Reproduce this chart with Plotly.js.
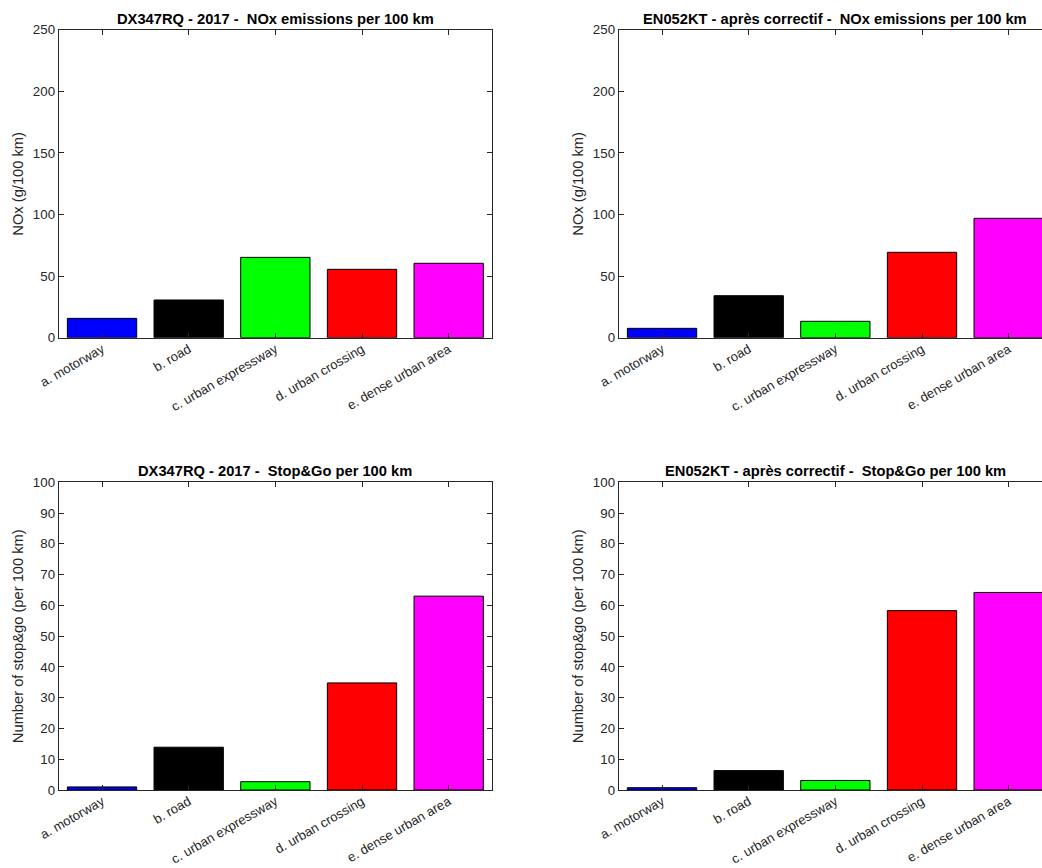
<!DOCTYPE html>
<html>
<head>
<meta charset="utf-8">
<script src="https://cdn.plot.ly/plotly-3.0.1.min.js"></script>
<style>html,body{margin:0;padding:0;background:#fff;overflow:hidden}</style>
</head>
<body>
<div id="chart" style="width:1042px;height:868px"></div>
<script>
var categories = ['a. motorway', 'b. road', 'c. urban expressway', 'd. urban crossing', 'e. dense urban area'];
var barColors = ['#0000FF', '#000000', '#00FF00', '#FF0000', '#FF00FF'];

var noxDX347RQ = [15.7, 30.6, 65.2, 55.5, 60.4];
var noxEN052KT = [7.6, 34.1, 13.3, 69.3, 96.9];
var stopGoDX347RQ = [1.0, 13.9, 2.7, 34.8, 63.0];
var stopGoEN052KT = [0.75, 6.3, 3.1, 58.3, 64.2];

var titles = [
  'DX347RQ - 2017 - \u00a0NOx emissions per 100 km',
  'EN052KT - après correctif - \u00a0NOx emissions per 100 km',
  'DX347RQ - 2017 - \u00a0Stop&amp;Go per 100 km',
  'EN052KT - après correctif - \u00a0Stop&amp;Go per 100 km'
];
var yTitleNox = 'NOx (g/100 km)';
var yTitleStop = 'Number of stop&amp;go (per 100 km)';

var W = 1042, H = 868;
var font = 'Liberation Sans, Arial, sans-serif';
var axisColor = '#262626';

function bar(y, xa, ya) {
  return {
    type: 'bar', x: categories, y: y, xaxis: xa, yaxis: ya,
    width: 0.8,
    marker: {color: barColors, line: {color: '#000000', width: 1}},
    hoverinfo: 'x+y', showlegend: false
  };
}

var data = [
  bar(noxDX347RQ, 'x', 'y'),
  bar(noxEN052KT, 'x2', 'y2'),
  bar(stopGoDX347RQ, 'x3', 'y3'),
  bar(stopGoEN052KT, 'x4', 'y4')
];

var leftX = [58.7, 492], rightX = [618.7, 1042];
var topY = [29.7, 337.7], botY = [482.3, 790];
function dx(p){ return [p[0]/W, p[1]/W]; }
function dy(p){ return [(H - p[1])/H, (H - p[0])/H]; }

function xaxis(domain, range, anchor) {
  return {
    domain: domain, anchor: anchor, range: range, type: 'category',
    showline: true, linecolor: axisColor, linewidth: 1, mirror: 'ticks',
    ticks: 'inside', ticklen: 5, tickcolor: axisColor, tickwidth: 1,
    tickangle: -30, ticklabelstandoff: -2, showgrid: false, zeroline: false,
    tickfont: {family: font, size: 13.1, color: axisColor}, fixedrange: true
  };
}
function yaxis(domain, range, dtick, anchor, mirror) {
  return {
    domain: domain, anchor: anchor, range: range, dtick: dtick, tick0: 0,
    showline: true, linecolor: axisColor, linewidth: 1, mirror: mirror,
    ticks: 'inside', ticklen: 5, tickcolor: axisColor, tickwidth: 1,
    showgrid: false, zeroline: false,
    tickfont: {family: font, size: 13.3, color: axisColor}, fixedrange: true
  };
}

var rightRangeEnd = -0.5 + (rightX[1] - rightX[0]) / ((leftX[1] - leftX[0]) / 5);

var annotations = [];
function title(text, xc, yc) {
  annotations.push({text: '<b>' + text + '</b>', xref: 'paper', yref: 'paper',
    x: xc / W, y: 1 - yc / H, showarrow: false, xanchor: 'center', yanchor: 'middle',
    font: {family: font, size: 14.7, color: '#000000'}});
}
function ytitle(text, xc, yc) {
  annotations.push({text: text, xref: 'paper', yref: 'paper', textangle: -90,
    x: xc / W, y: 1 - yc / H, showarrow: false, xanchor: 'center', yanchor: 'middle',
    font: {family: font, size: 14.7, color: axisColor}});
}
var axW = leftX[1] - leftX[0];
title(titles[0], (leftX[0] + leftX[1]) / 2, 19);
title(titles[1], rightX[0] + axW / 2, 19);
title(titles[2], (leftX[0] + leftX[1]) / 2, 471);
title(titles[3], rightX[0] + axW / 2, 471);
ytitle(yTitleNox, 18, (topY[0] + topY[1]) / 2);
ytitle(yTitleNox, 578, (topY[0] + topY[1]) / 2);
ytitle(yTitleStop, 18, (botY[0] + botY[1]) / 2);
ytitle(yTitleStop, 578, (botY[0] + botY[1]) / 2);

var layout = {
  width: W, height: H,
  margin: {l: 0, r: 0, t: 0, b: 0},
  paper_bgcolor: '#ffffff', plot_bgcolor: '#ffffff',
  bargap: 0.2,
  font: {family: font},
  xaxis: xaxis(dx(leftX), [-0.5, 4.5], 'y'),
  yaxis: yaxis(dy(topY), [0, 250], 50, 'x', 'ticks'),
  xaxis2: xaxis(dx(rightX), [-0.5, rightRangeEnd], 'y2'),
  yaxis2: yaxis(dy(topY), [0, 250], 50, 'x2', false),
  xaxis3: xaxis(dx(leftX), [-0.5, 4.5], 'y3'),
  yaxis3: yaxis(dy(botY), [0, 100], 10, 'x3', 'ticks'),
  xaxis4: xaxis(dx(rightX), [-0.5, rightRangeEnd], 'y4'),
  yaxis4: yaxis(dy(botY), [0, 100], 10, 'x4', false),
  annotations: annotations
};

Plotly.newPlot('chart', data, layout, {displayModeBar: false, staticPlot: true});
</script>
</body>
</html>
